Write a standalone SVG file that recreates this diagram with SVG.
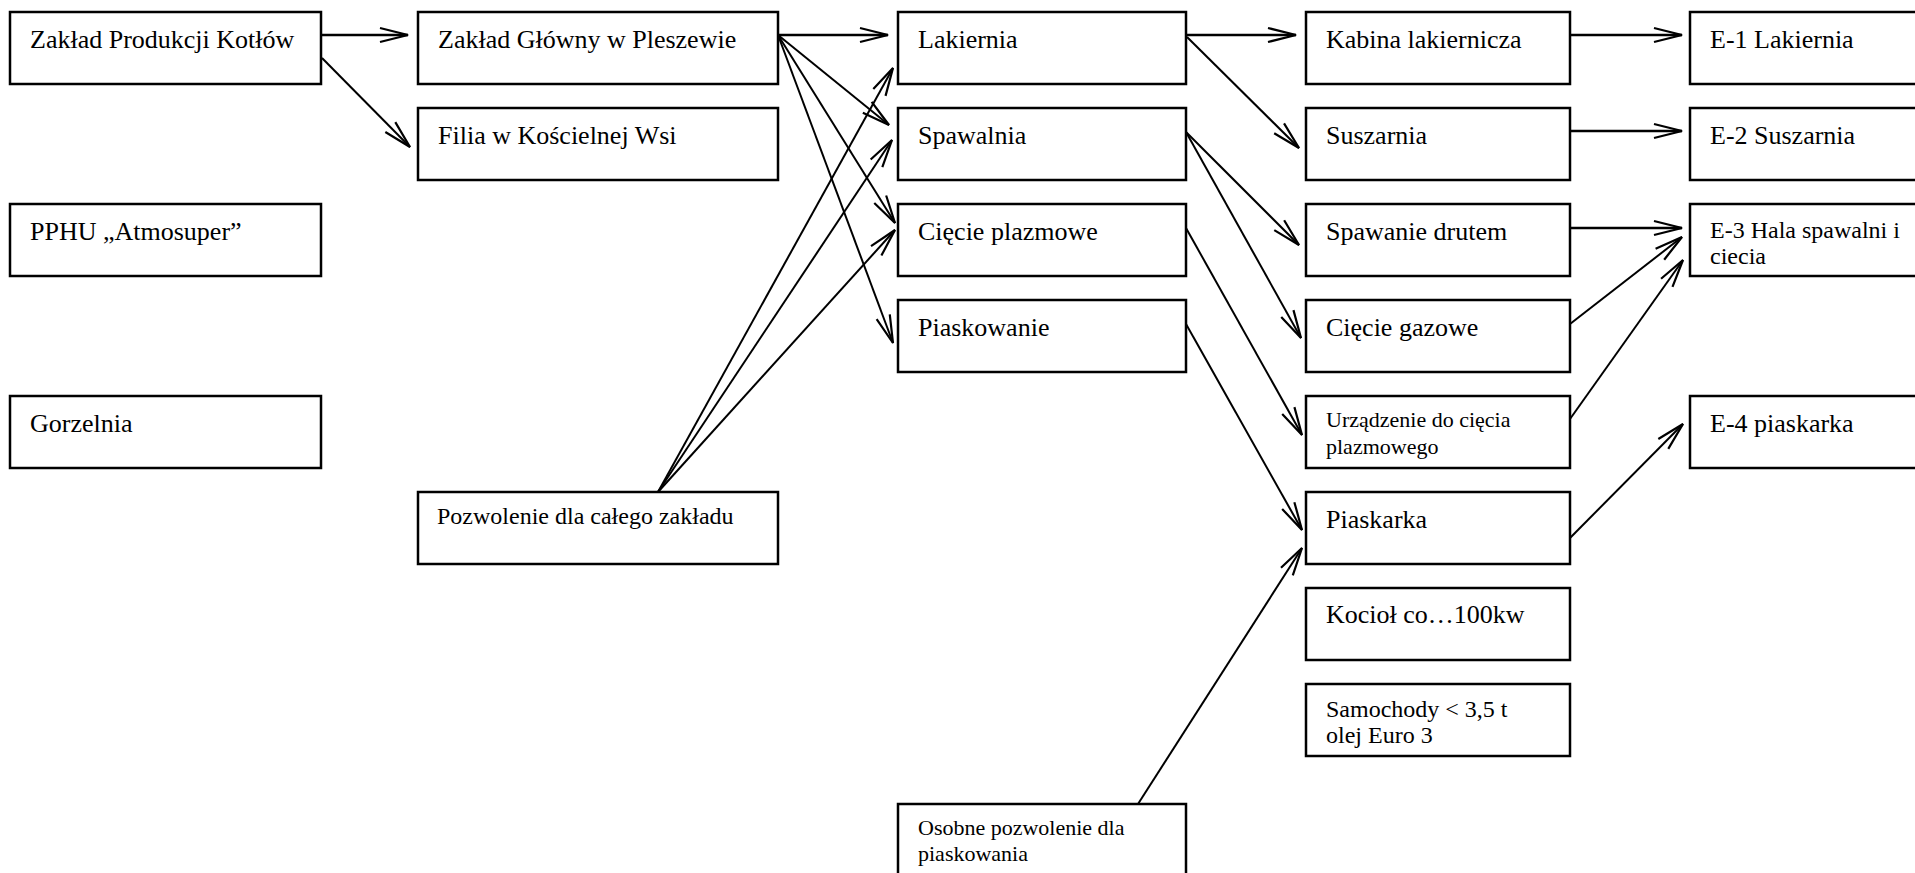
<svg xmlns="http://www.w3.org/2000/svg" width="1915" height="873" viewBox="0 0 1915 873">
<style>
.box rect{fill:#fff;stroke:#000;stroke-width:2.5}
text{font-family:"Liberation Serif","Times New Roman",serif;font-size:26px;fill:#000}
.sm{font-size:24px}
.xs{font-size:22px}
.c line{stroke:#000;stroke-width:2;marker-end:url(#arr)}
.c line.h{stroke-width:2.6}
</style>
<defs>
<marker id="arr" markerUnits="userSpaceOnUse" viewBox="-30 -9 32 18" markerWidth="32" markerHeight="18" refX="0" refY="0" orient="auto" overflow="visible">
<path d="M-28,-7 L0,0 L-28,7" fill="none" stroke="#000" stroke-width="2.2"/>
</marker>
</defs>
<rect width="1915" height="873" fill="#fff"/>

<g id="n-zpk" class="box"><rect x="10" y="12" width="311" height="72"/><text x="30" y="48">Zakład Produkcji Kotłów</text></g>
<g id="n-pphu" class="box"><rect x="10" y="204" width="311" height="72"/><text x="30" y="240">PPHU „Atmosuper”</text></g>
<g id="n-gorzelnia" class="box"><rect x="10" y="396" width="311" height="72"/><text x="30" y="432">Gorzelnia</text></g>

<g id="n-zg" class="box"><rect x="418" y="12" width="360" height="72"/><text x="438" y="48">Zakład Główny w Pleszewie</text></g>
<g id="n-filia" class="box"><rect x="418" y="108" width="360" height="72"/><text x="438" y="144">Filia w Kościelnej Wsi</text></g>
<g id="n-pozwolenie" class="box"><rect x="418" y="492" width="360" height="72"/><text class="sm" x="437" y="524">Pozwolenie dla całego zakładu</text></g>

<g id="n-lakiernia" class="box"><rect x="898" y="12" width="288" height="72"/><text x="918" y="48">Lakiernia</text></g>
<g id="n-spawalnia" class="box"><rect x="898" y="108" width="288" height="72"/><text x="918" y="144">Spawalnia</text></g>
<g id="n-ciecie-plazmowe" class="box"><rect x="898" y="204" width="288" height="72"/><text x="918" y="240">Cięcie plazmowe</text></g>
<g id="n-piaskowanie" class="box"><rect x="898" y="300" width="288" height="72"/><text x="918" y="336">Piaskowanie</text></g>
<g id="n-osobne" class="box"><rect x="898" y="804" width="288" height="74"/><text class="xs" x="918" y="835">Osobne pozwolenie dla</text><text class="xs" x="918" y="861">piaskowania</text></g>

<g id="n-kabina" class="box"><rect x="1306" y="12" width="264" height="72"/><text x="1326" y="48">Kabina lakiernicza</text></g>
<g id="n-suszarnia" class="box"><rect x="1306" y="108" width="264" height="72"/><text x="1326" y="144">Suszarnia</text></g>
<g id="n-spawanie" class="box"><rect x="1306" y="204" width="264" height="72"/><text x="1326" y="240">Spawanie drutem</text></g>
<g id="n-ciecie-gazowe" class="box"><rect x="1306" y="300" width="264" height="72"/><text x="1326" y="336">Cięcie gazowe</text></g>
<g id="n-urzadzenie" class="box"><rect x="1306" y="396" width="264" height="72"/><text class="xs" x="1326" y="427">Urządzenie do cięcia</text><text class="xs" x="1326" y="454">plazmowego</text></g>
<g id="n-piaskarka" class="box"><rect x="1306" y="492" width="264" height="72"/><text x="1326" y="528">Piaskarka</text></g>
<g id="n-kociol" class="box"><rect x="1306" y="588" width="264" height="72"/><text x="1326" y="623">Kocioł co…100kw</text></g>
<g id="n-samochody" class="box"><rect x="1306" y="684" width="264" height="72"/><text class="sm" x="1326" y="717">Samochody &lt; 3,5 t</text><text class="sm" x="1326" y="743">olej Euro 3</text></g>

<g id="n-e1" class="box"><rect x="1690" y="12" width="240" height="72"/><text x="1710" y="48">E-1 Lakiernia</text></g>
<g id="n-e2" class="box"><rect x="1690" y="108" width="240" height="72"/><text x="1710" y="144">E-2 Suszarnia</text></g>
<g id="n-e3" class="box"><rect x="1690" y="204" width="240" height="72"/><text class="sm" x="1710" y="238">E-3 Hala spawalni i</text><text class="sm" x="1710" y="264">ciecia</text></g>
<g id="n-e4" class="box"><rect x="1690" y="396" width="240" height="72"/><text x="1710" y="432">E-4 piaskarka</text></g>

<g id="connectors" class="c">
<line class="h" x1="321" y1="35" x2="408" y2="35"/>
<line x1="322" y1="58" x2="410" y2="147"/>
<line class="h" x1="778" y1="35" x2="888" y2="35"/>
<line x1="778" y1="35" x2="889" y2="125"/>
<line x1="778" y1="35" x2="895" y2="223"/>
<line x1="778" y1="35" x2="893" y2="343"/>
<line x1="658" y1="492" x2="893" y2="68"/>
<line x1="658" y1="492" x2="892" y2="140"/>
<line x1="658" y1="492" x2="895" y2="230"/>
<line class="h" x1="1186" y1="35" x2="1296" y2="35"/>
<line x1="1187" y1="37" x2="1299" y2="148"/>
<line x1="1186" y1="132" x2="1299" y2="245"/>
<line x1="1186" y1="132" x2="1301" y2="338"/>
<line x1="1186" y1="228" x2="1302" y2="435"/>
<line x1="1186" y1="324" x2="1302" y2="530"/>
<line x1="1138" y1="804" x2="1302" y2="548"/>
<line class="h" x1="1570" y1="35" x2="1682" y2="35"/>
<line class="h" x1="1570" y1="131" x2="1682" y2="131"/>
<line class="h" x1="1570" y1="228" x2="1682" y2="228"/>
<line x1="1570" y1="324" x2="1682" y2="237"/>
<line x1="1570" y1="419" x2="1683" y2="260"/>
<line x1="1570" y1="538" x2="1683" y2="424"/>
</g>
</svg>
